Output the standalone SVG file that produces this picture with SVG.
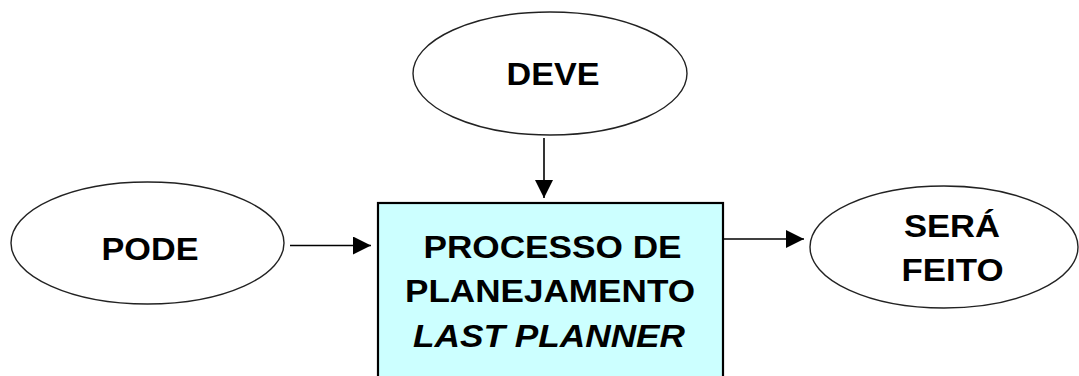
<svg xmlns="http://www.w3.org/2000/svg" width="1079" height="376" viewBox="0 0 1079 376">
<defs>
<style>
.ell{fill:#ffffff;stroke:#222;stroke-width:1.4}
.box{fill:#ccffff;stroke:#000;stroke-width:2.2}
.t{font-family:"Liberation Sans",Arial,sans-serif;font-weight:bold;font-size:32px;fill:#000;text-anchor:middle}
.it{font-style:italic}
.c{stroke:#000;stroke-width:1.6;fill:none}
</style>
<marker id="ah" viewBox="0 0 10 10" refX="10" refY="5" markerWidth="10" markerHeight="10" markerUnits="userSpaceOnUse" orient="auto">
<path d="M0,0 L10,5 L0,10 Z" fill="#000"/>
</marker>
<marker id="ah2" viewBox="0 0 18 18" refX="18" refY="9" markerWidth="18" markerHeight="18" markerUnits="userSpaceOnUse" orient="auto">
<path d="M0,0 L18,9 L0,18 Z" fill="#000"/>
</marker>
</defs>
<rect width="1079" height="376" fill="#ffffff"/>
<g id="connectors">
<line class="c" x1="544" y1="138" x2="544" y2="198" marker-end="url(#ah2)"/>
<line class="c" x1="290" y1="245.5" x2="371" y2="245.5" marker-end="url(#ah2)"/>
<line class="c" x1="723" y1="239" x2="804" y2="239" marker-end="url(#ah2)"/>
</g>
<g id="deve">
<ellipse class="ell" cx="550" cy="73.5" rx="137" ry="61.5"/>
<text class="t" x="553" y="85" textLength="93" lengthAdjust="spacingAndGlyphs">DEVE</text>
</g>
<g id="pode">
<ellipse class="ell" cx="147.5" cy="243" rx="136.5" ry="61"/>
<text class="t" x="150" y="260" textLength="97" lengthAdjust="spacingAndGlyphs">PODE</text>
</g>
<g id="processo">
<rect class="box" x="378" y="203" width="345" height="190"/>
<text class="t" x="552.5" y="258" textLength="258" lengthAdjust="spacingAndGlyphs">PROCESSO DE</text>
<text class="t" x="550" y="302" textLength="290" lengthAdjust="spacingAndGlyphs">PLANEJAMENTO</text>
<text class="t it" x="549" y="347" textLength="272" lengthAdjust="spacingAndGlyphs">LAST PLANNER</text>
</g>
<g id="sera-feito">
<ellipse class="ell" cx="944" cy="247" rx="134" ry="61"/>
<text class="t" x="952" y="237" textLength="96" lengthAdjust="spacingAndGlyphs">SERÁ</text>
<text class="t" x="952.5" y="281" textLength="102" lengthAdjust="spacingAndGlyphs">FEITO</text>
</g>
</svg>
